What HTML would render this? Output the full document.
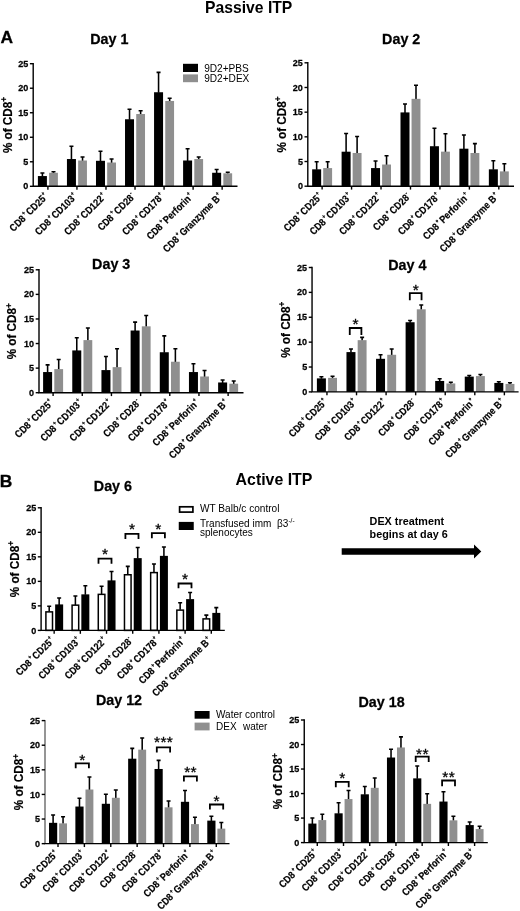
<!DOCTYPE html>
<html lang="en">
<head>
<meta charset="utf-8">
<title>Passive ITP / Active ITP</title>
<style>html,body{margin:0;padding:0;background:#fff}body{width:520px;height:911px;overflow:hidden}svg{display:block}</style>
</head>
<body>
<svg width="520" height="911" viewBox="0 0 520 911" font-family='"Liberation Sans", sans-serif' fill="#000">
<rect width="520" height="911" fill="#fff"/>
<g>
<path d="M42.4 176.55V172.76M40.4 172.96H44.4" stroke="#000" stroke-width="1.55" fill="none"/>
<rect x="37.9" y="176.05" width="9" height="10.25" fill="#000"/>
<path d="M53.5 173.26V171.59M51.5 171.79H55.5" stroke="#000" stroke-width="1.55" fill="none"/>
<rect x="49.1" y="172.76" width="8.8" height="13.54" fill="#8f8f8f"/>
<path d="M71.44 159.53V146.09M69.44 146.29H73.44" stroke="#000" stroke-width="1.55" fill="none"/>
<rect x="66.94" y="159.03" width="9" height="27.27" fill="#000"/>
<path d="M82.54 161V156.88M80.54 157.08H84.54" stroke="#000" stroke-width="1.55" fill="none"/>
<rect x="78.14" y="160.5" width="8.8" height="25.8" fill="#8f8f8f"/>
<path d="M100.48 161.3V150.99M98.48 151.19H102.48" stroke="#000" stroke-width="1.55" fill="none"/>
<rect x="95.98" y="160.8" width="9" height="25.5" fill="#000"/>
<path d="M111.58 163.02V158.84M109.58 159.04H113.58" stroke="#000" stroke-width="1.55" fill="none"/>
<rect x="107.18" y="162.52" width="8.8" height="23.78" fill="#8f8f8f"/>
<path d="M129.52 119.76V108.96M127.52 109.16H131.52" stroke="#000" stroke-width="1.55" fill="none"/>
<rect x="125.02" y="119.26" width="9" height="67.04" fill="#000"/>
<path d="M140.62 114.52V110.48M138.62 110.68H142.62" stroke="#000" stroke-width="1.55" fill="none"/>
<rect x="136.22" y="114.02" width="8.8" height="72.28" fill="#8f8f8f"/>
<path d="M158.56 92.74V72.18M156.56 72.38H160.56" stroke="#000" stroke-width="1.55" fill="none"/>
<rect x="154.06" y="92.24" width="9" height="94.06" fill="#000"/>
<path d="M169.66 101.47V98.03M167.66 98.23H171.66" stroke="#000" stroke-width="1.55" fill="none"/>
<rect x="165.26" y="100.97" width="8.8" height="85.33" fill="#8f8f8f"/>
<path d="M187.6 161V148.54M185.6 148.74H189.6" stroke="#000" stroke-width="1.55" fill="none"/>
<rect x="183.1" y="160.5" width="9" height="25.8" fill="#000"/>
<path d="M198.7 159.53V156.88M196.7 157.08H200.7" stroke="#000" stroke-width="1.55" fill="none"/>
<rect x="194.3" y="159.03" width="8.8" height="27.27" fill="#8f8f8f"/>
<path d="M216.64 173.26V169.28M214.64 169.48H218.64" stroke="#000" stroke-width="1.55" fill="none"/>
<rect x="212.14" y="172.76" width="9" height="13.54" fill="#000"/>
<path d="M227.74 173.8V172.08M225.74 172.28H229.74" stroke="#000" stroke-width="1.55" fill="none"/>
<rect x="223.34" y="173.3" width="8.8" height="13" fill="#8f8f8f"/>
<path d="M33.2 63V186.3H237.5" stroke="#000" stroke-width="1.4" fill="none"/>
<path d="M29.9 186.3H33.2" stroke="#000" stroke-width="1.4"/>
<text transform="translate(28.3 189.4) scale(0.96 1)" text-anchor="end" font-size="9.4" font-weight="bold" stroke="#000" stroke-width="0.25">0</text>
<path d="M29.9 161.78H33.2" stroke="#000" stroke-width="1.4"/>
<text transform="translate(28.3 164.88) scale(0.96 1)" text-anchor="end" font-size="9.4" font-weight="bold" stroke="#000" stroke-width="0.25">5</text>
<path d="M29.9 137.26H33.2" stroke="#000" stroke-width="1.4"/>
<text transform="translate(28.3 140.36) scale(0.96 1)" text-anchor="end" font-size="9.4" font-weight="bold" stroke="#000" stroke-width="0.25">10</text>
<path d="M29.9 112.74H33.2" stroke="#000" stroke-width="1.4"/>
<text transform="translate(28.3 115.84) scale(0.96 1)" text-anchor="end" font-size="9.4" font-weight="bold" stroke="#000" stroke-width="0.25">15</text>
<path d="M29.9 88.22H33.2" stroke="#000" stroke-width="1.4"/>
<text transform="translate(28.3 91.32) scale(0.96 1)" text-anchor="end" font-size="9.4" font-weight="bold" stroke="#000" stroke-width="0.25">20</text>
<path d="M29.9 63.7H33.2" stroke="#000" stroke-width="1.4"/>
<text transform="translate(28.3 66.8) scale(0.96 1)" text-anchor="end" font-size="9.4" font-weight="bold" stroke="#000" stroke-width="0.25">25</text>
<path d="M47.9 186.3V189.7" stroke="#000" stroke-width="1.4"/>
<text transform="translate(48.7 197.1) rotate(-45) scale(0.88 1)" text-anchor="end" font-size="10.2" font-weight="bold" stroke="#000" stroke-width="0.2">CD8<tspan dy="-4.6" dx="1.2" font-size="5.8">+</tspan><tspan dy="4.6" dx="1.4">CD25</tspan><tspan dy="-4.6" dx="0.6" font-size="5.8">+</tspan></text>
<path d="M76.94 186.3V189.7" stroke="#000" stroke-width="1.4"/>
<text transform="translate(77.74 197.1) rotate(-45) scale(0.88 1)" text-anchor="end" font-size="10.2" font-weight="bold" stroke="#000" stroke-width="0.2">CD8<tspan dy="-4.6" dx="1.2" font-size="5.8">+</tspan><tspan dy="4.6" dx="1.4">CD103</tspan><tspan dy="-4.6" dx="0.6" font-size="5.8">+</tspan></text>
<path d="M105.98 186.3V189.7" stroke="#000" stroke-width="1.4"/>
<text transform="translate(106.78 197.1) rotate(-45) scale(0.88 1)" text-anchor="end" font-size="10.2" font-weight="bold" stroke="#000" stroke-width="0.2">CD8<tspan dy="-4.6" dx="1.2" font-size="5.8">+</tspan><tspan dy="4.6" dx="1.4">CD122</tspan><tspan dy="-4.6" dx="0.6" font-size="5.8">+</tspan></text>
<path d="M135.02 186.3V189.7" stroke="#000" stroke-width="1.4"/>
<text transform="translate(135.82 197.1) rotate(-45) scale(0.88 1)" text-anchor="end" font-size="10.2" font-weight="bold" stroke="#000" stroke-width="0.2">CD8<tspan dy="-4.6" dx="1.2" font-size="5.8">+</tspan><tspan dy="4.6" dx="1.4">CD28</tspan><tspan dy="-4.6" dx="0.6" font-size="5.8">-</tspan></text>
<path d="M164.06 186.3V189.7" stroke="#000" stroke-width="1.4"/>
<text transform="translate(164.86 197.1) rotate(-45) scale(0.88 1)" text-anchor="end" font-size="10.2" font-weight="bold" stroke="#000" stroke-width="0.2">CD8<tspan dy="-4.6" dx="1.2" font-size="5.8">+</tspan><tspan dy="4.6" dx="1.4">CD178</tspan><tspan dy="-4.6" dx="0.6" font-size="5.8">+</tspan></text>
<path d="M193.1 186.3V189.7" stroke="#000" stroke-width="1.4"/>
<text transform="translate(193.9 197.1) rotate(-45) scale(0.88 1)" text-anchor="end" font-size="10.2" font-weight="bold" stroke="#000" stroke-width="0.2">CD8<tspan dy="-4.6" dx="1.2" font-size="5.8">+</tspan><tspan dy="4.6" dx="1.4">Perforin</tspan><tspan dy="-4.6" dx="0.6" font-size="5.8">+</tspan></text>
<path d="M222.14 186.3V189.7" stroke="#000" stroke-width="1.4"/>
<text transform="translate(222.94 197.1) rotate(-45) scale(0.88 1)" text-anchor="end" font-size="10.2" font-weight="bold" stroke="#000" stroke-width="0.2">CD8<tspan dy="-4.6" dx="1.2" font-size="5.8">+</tspan><tspan dy="4.6" dx="1.4">Granzyme B</tspan><tspan dy="-4.6" dx="0.6" font-size="5.8">+</tspan></text>
<text transform="translate(11.8 125) rotate(-90) scale(0.915 1)" text-anchor="middle" font-size="12.8" font-weight="bold" stroke="#000" stroke-width="0.2">% of CD8<tspan dy="-4.6" font-size="9">+</tspan></text>
<text transform="translate(90.2 44) scale(1.03 1)" font-size="13.9" font-weight="bold" stroke="#000" stroke-width="0.25">Day 1</text>
</g>
<g>
<path d="M316.65 169.82V161.52M314.65 161.72H318.65" stroke="#000" stroke-width="1.55" fill="none"/>
<rect x="312.15" y="169.32" width="9" height="16.88" fill="#000"/>
<path d="M327.65 168.58V161.52M325.65 161.72H329.65" stroke="#000" stroke-width="1.55" fill="none"/>
<rect x="323.2" y="168.08" width="8.9" height="18.12" fill="#8f8f8f"/>
<path d="M346.1 152.2V133.38M344.1 133.58H348.1" stroke="#000" stroke-width="1.55" fill="none"/>
<rect x="341.6" y="151.7" width="9" height="34.5" fill="#000"/>
<path d="M357.1 153.48V136.35M355.1 136.55H359.1" stroke="#000" stroke-width="1.55" fill="none"/>
<rect x="352.65" y="152.98" width="8.9" height="33.22" fill="#8f8f8f"/>
<path d="M375.55 168.58V160.78M373.55 160.98H377.55" stroke="#000" stroke-width="1.55" fill="none"/>
<rect x="371.05" y="168.08" width="9" height="18.12" fill="#000"/>
<path d="M386.55 165.03V155.6M384.55 155.8H388.55" stroke="#000" stroke-width="1.55" fill="none"/>
<rect x="382.1" y="164.53" width="8.9" height="21.67" fill="#8f8f8f"/>
<path d="M405 112.91V103.77M403 103.97H407" stroke="#000" stroke-width="1.55" fill="none"/>
<rect x="400.5" y="112.41" width="9" height="73.79" fill="#000"/>
<path d="M416 99.33V85.01M414 85.21H418" stroke="#000" stroke-width="1.55" fill="none"/>
<rect x="411.55" y="98.83" width="8.9" height="87.37" fill="#8f8f8f"/>
<path d="M434.45 146.72V127.96M432.45 128.16H436.45" stroke="#000" stroke-width="1.55" fill="none"/>
<rect x="429.95" y="146.22" width="9" height="39.98" fill="#000"/>
<path d="M445.45 152.15V133.58M443.45 133.78H447.45" stroke="#000" stroke-width="1.55" fill="none"/>
<rect x="441" y="151.65" width="8.9" height="34.55" fill="#8f8f8f"/>
<path d="M463.9 149.19V134.87M461.9 135.07H465.9" stroke="#000" stroke-width="1.55" fill="none"/>
<rect x="459.4" y="148.69" width="9" height="37.51" fill="#000"/>
<path d="M474.9 153.48V143.4M472.9 143.6H476.9" stroke="#000" stroke-width="1.55" fill="none"/>
<rect x="470.45" y="152.98" width="8.9" height="33.22" fill="#8f8f8f"/>
<path d="M493.35 169.82V160.53M491.35 160.73H495.35" stroke="#000" stroke-width="1.55" fill="none"/>
<rect x="488.85" y="169.32" width="9" height="16.88" fill="#000"/>
<path d="M504.35 171.89V163.49M502.35 163.69H506.35" stroke="#000" stroke-width="1.55" fill="none"/>
<rect x="499.9" y="171.39" width="8.9" height="14.81" fill="#8f8f8f"/>
<path d="M307.8 62.1V186.2H514" stroke="#000" stroke-width="1.4" fill="none"/>
<path d="M304.5 186.2H307.8" stroke="#000" stroke-width="1.4"/>
<text transform="translate(302.9 189.3) scale(0.96 1)" text-anchor="end" font-size="9.4" font-weight="bold" stroke="#000" stroke-width="0.25">0</text>
<path d="M304.5 161.52H307.8" stroke="#000" stroke-width="1.4"/>
<text transform="translate(302.9 164.62) scale(0.96 1)" text-anchor="end" font-size="9.4" font-weight="bold" stroke="#000" stroke-width="0.25">5</text>
<path d="M304.5 136.84H307.8" stroke="#000" stroke-width="1.4"/>
<text transform="translate(302.9 139.94) scale(0.96 1)" text-anchor="end" font-size="9.4" font-weight="bold" stroke="#000" stroke-width="0.25">10</text>
<path d="M304.5 112.16H307.8" stroke="#000" stroke-width="1.4"/>
<text transform="translate(302.9 115.26) scale(0.96 1)" text-anchor="end" font-size="9.4" font-weight="bold" stroke="#000" stroke-width="0.25">15</text>
<path d="M304.5 87.48H307.8" stroke="#000" stroke-width="1.4"/>
<text transform="translate(302.9 90.58) scale(0.96 1)" text-anchor="end" font-size="9.4" font-weight="bold" stroke="#000" stroke-width="0.25">20</text>
<path d="M304.5 62.8H307.8" stroke="#000" stroke-width="1.4"/>
<text transform="translate(302.9 65.9) scale(0.96 1)" text-anchor="end" font-size="9.4" font-weight="bold" stroke="#000" stroke-width="0.25">25</text>
<path d="M322.12 186.2V189.6" stroke="#000" stroke-width="1.4"/>
<text transform="translate(322.93 197) rotate(-45) scale(0.88 1)" text-anchor="end" font-size="10.2" font-weight="bold" stroke="#000" stroke-width="0.2">CD8<tspan dy="-4.6" dx="1.2" font-size="5.8">+</tspan><tspan dy="4.6" dx="1.4">CD25</tspan><tspan dy="-4.6" dx="0.6" font-size="5.8">+</tspan></text>
<path d="M351.57 186.2V189.6" stroke="#000" stroke-width="1.4"/>
<text transform="translate(352.38 197) rotate(-45) scale(0.88 1)" text-anchor="end" font-size="10.2" font-weight="bold" stroke="#000" stroke-width="0.2">CD8<tspan dy="-4.6" dx="1.2" font-size="5.8">+</tspan><tspan dy="4.6" dx="1.4">CD103</tspan><tspan dy="-4.6" dx="0.6" font-size="5.8">+</tspan></text>
<path d="M381.02 186.2V189.6" stroke="#000" stroke-width="1.4"/>
<text transform="translate(381.82 197) rotate(-45) scale(0.88 1)" text-anchor="end" font-size="10.2" font-weight="bold" stroke="#000" stroke-width="0.2">CD8<tspan dy="-4.6" dx="1.2" font-size="5.8">+</tspan><tspan dy="4.6" dx="1.4">CD122</tspan><tspan dy="-4.6" dx="0.6" font-size="5.8">+</tspan></text>
<path d="M410.48 186.2V189.6" stroke="#000" stroke-width="1.4"/>
<text transform="translate(411.28 197) rotate(-45) scale(0.88 1)" text-anchor="end" font-size="10.2" font-weight="bold" stroke="#000" stroke-width="0.2">CD8<tspan dy="-4.6" dx="1.2" font-size="5.8">+</tspan><tspan dy="4.6" dx="1.4">CD28</tspan><tspan dy="-4.6" dx="0.6" font-size="5.8">-</tspan></text>
<path d="M439.93 186.2V189.6" stroke="#000" stroke-width="1.4"/>
<text transform="translate(440.73 197) rotate(-45) scale(0.88 1)" text-anchor="end" font-size="10.2" font-weight="bold" stroke="#000" stroke-width="0.2">CD8<tspan dy="-4.6" dx="1.2" font-size="5.8">+</tspan><tspan dy="4.6" dx="1.4">CD178</tspan><tspan dy="-4.6" dx="0.6" font-size="5.8">+</tspan></text>
<path d="M469.38 186.2V189.6" stroke="#000" stroke-width="1.4"/>
<text transform="translate(470.18 197) rotate(-45) scale(0.88 1)" text-anchor="end" font-size="10.2" font-weight="bold" stroke="#000" stroke-width="0.2">CD8<tspan dy="-4.6" dx="1.2" font-size="5.8">+</tspan><tspan dy="4.6" dx="1.4">Perforin</tspan><tspan dy="-4.6" dx="0.6" font-size="5.8">+</tspan></text>
<path d="M498.82 186.2V189.6" stroke="#000" stroke-width="1.4"/>
<text transform="translate(499.62 197) rotate(-45) scale(0.88 1)" text-anchor="end" font-size="10.2" font-weight="bold" stroke="#000" stroke-width="0.2">CD8<tspan dy="-4.6" dx="1.2" font-size="5.8">+</tspan><tspan dy="4.6" dx="1.4">Granzyme B</tspan><tspan dy="-4.6" dx="0.6" font-size="5.8">+</tspan></text>
<text transform="translate(285.7 124.5) rotate(-90) scale(0.915 1)" text-anchor="middle" font-size="12.8" font-weight="bold" stroke="#000" stroke-width="0.2">% of CD8<tspan dy="-4.6" font-size="9">+</tspan></text>
<text transform="translate(382.1 44.4) scale(1.03 1)" font-size="13.9" font-weight="bold" stroke="#000" stroke-width="0.25">Day 2</text>
</g>
<g>
<path d="M47.6 372.55V364.68M45.6 364.88H49.6" stroke="#000" stroke-width="1.55" fill="none"/>
<rect x="43.1" y="372.05" width="9" height="20.65" fill="#000"/>
<path d="M58.7 369.6V359.27M56.7 359.47H60.7" stroke="#000" stroke-width="1.55" fill="none"/>
<rect x="54.3" y="369.1" width="8.8" height="23.6" fill="#8f8f8f"/>
<path d="M76.77 350.92V337.64M74.77 337.84H78.77" stroke="#000" stroke-width="1.55" fill="none"/>
<rect x="72.27" y="350.42" width="9" height="42.28" fill="#000"/>
<path d="M87.87 340.6V327.81M85.87 328.01H89.87" stroke="#000" stroke-width="1.55" fill="none"/>
<rect x="83.47" y="340.1" width="8.8" height="52.6" fill="#8f8f8f"/>
<path d="M105.94 370.59V356.32M103.94 356.52H107.94" stroke="#000" stroke-width="1.55" fill="none"/>
<rect x="101.44" y="370.09" width="9" height="22.61" fill="#000"/>
<path d="M117.04 367.64V348.46M115.04 348.66H119.04" stroke="#000" stroke-width="1.55" fill="none"/>
<rect x="112.64" y="367.14" width="8.8" height="25.56" fill="#8f8f8f"/>
<path d="M135.11 331.01V321.91M133.11 322.11H137.11" stroke="#000" stroke-width="1.55" fill="none"/>
<rect x="130.61" y="330.51" width="9" height="62.19" fill="#000"/>
<path d="M146.21 326.83V315.27M144.21 315.47H148.21" stroke="#000" stroke-width="1.55" fill="none"/>
<rect x="141.81" y="326.33" width="8.8" height="66.37" fill="#8f8f8f"/>
<path d="M164.28 352.74V335.67M162.28 335.87H166.28" stroke="#000" stroke-width="1.55" fill="none"/>
<rect x="159.78" y="352.24" width="9" height="40.46" fill="#000"/>
<path d="M175.38 362.23V348.46M173.38 348.66H177.38" stroke="#000" stroke-width="1.55" fill="none"/>
<rect x="170.98" y="361.73" width="8.8" height="30.97" fill="#8f8f8f"/>
<path d="M193.45 372.55V363.45M191.45 363.65H195.45" stroke="#000" stroke-width="1.55" fill="none"/>
<rect x="188.95" y="372.05" width="9" height="20.65" fill="#000"/>
<path d="M204.55 376.98V370.23M202.55 370.43H206.55" stroke="#000" stroke-width="1.55" fill="none"/>
<rect x="200.15" y="376.48" width="8.8" height="16.22" fill="#8f8f8f"/>
<path d="M222.62 382.97V379.72M220.62 379.92H224.62" stroke="#000" stroke-width="1.55" fill="none"/>
<rect x="218.12" y="382.47" width="9" height="10.23" fill="#000"/>
<path d="M233.72 384.2V380.7M231.72 380.9H235.72" stroke="#000" stroke-width="1.55" fill="none"/>
<rect x="229.32" y="383.7" width="8.8" height="9" fill="#8f8f8f"/>
<path d="M39 269.1V392.7H243.5" stroke="#000" stroke-width="1.4" fill="none"/>
<path d="M35.7 392.7H39" stroke="#000" stroke-width="1.4"/>
<text transform="translate(34.1 395.8) scale(0.96 1)" text-anchor="end" font-size="9.4" font-weight="bold" stroke="#000" stroke-width="0.25">0</text>
<path d="M35.7 368.12H39" stroke="#000" stroke-width="1.4"/>
<text transform="translate(34.1 371.22) scale(0.96 1)" text-anchor="end" font-size="9.4" font-weight="bold" stroke="#000" stroke-width="0.25">5</text>
<path d="M35.7 343.54H39" stroke="#000" stroke-width="1.4"/>
<text transform="translate(34.1 346.64) scale(0.96 1)" text-anchor="end" font-size="9.4" font-weight="bold" stroke="#000" stroke-width="0.25">10</text>
<path d="M35.7 318.96H39" stroke="#000" stroke-width="1.4"/>
<text transform="translate(34.1 322.06) scale(0.96 1)" text-anchor="end" font-size="9.4" font-weight="bold" stroke="#000" stroke-width="0.25">15</text>
<path d="M35.7 294.38H39" stroke="#000" stroke-width="1.4"/>
<text transform="translate(34.1 297.48) scale(0.96 1)" text-anchor="end" font-size="9.4" font-weight="bold" stroke="#000" stroke-width="0.25">20</text>
<path d="M35.7 269.8H39" stroke="#000" stroke-width="1.4"/>
<text transform="translate(34.1 272.9) scale(0.96 1)" text-anchor="end" font-size="9.4" font-weight="bold" stroke="#000" stroke-width="0.25">25</text>
<path d="M53.1 392.7V396.1" stroke="#000" stroke-width="1.4"/>
<text transform="translate(53.9 403.5) rotate(-45) scale(0.88 1)" text-anchor="end" font-size="10.2" font-weight="bold" stroke="#000" stroke-width="0.2">CD8<tspan dy="-4.6" dx="1.2" font-size="5.8">+</tspan><tspan dy="4.6" dx="1.4">CD25</tspan><tspan dy="-4.6" dx="0.6" font-size="5.8">+</tspan></text>
<path d="M82.27 392.7V396.1" stroke="#000" stroke-width="1.4"/>
<text transform="translate(83.07 403.5) rotate(-45) scale(0.88 1)" text-anchor="end" font-size="10.2" font-weight="bold" stroke="#000" stroke-width="0.2">CD8<tspan dy="-4.6" dx="1.2" font-size="5.8">+</tspan><tspan dy="4.6" dx="1.4">CD103</tspan><tspan dy="-4.6" dx="0.6" font-size="5.8">+</tspan></text>
<path d="M111.44 392.7V396.1" stroke="#000" stroke-width="1.4"/>
<text transform="translate(112.24 403.5) rotate(-45) scale(0.88 1)" text-anchor="end" font-size="10.2" font-weight="bold" stroke="#000" stroke-width="0.2">CD8<tspan dy="-4.6" dx="1.2" font-size="5.8">+</tspan><tspan dy="4.6" dx="1.4">CD122</tspan><tspan dy="-4.6" dx="0.6" font-size="5.8">+</tspan></text>
<path d="M140.61 392.7V396.1" stroke="#000" stroke-width="1.4"/>
<text transform="translate(141.41 403.5) rotate(-45) scale(0.88 1)" text-anchor="end" font-size="10.2" font-weight="bold" stroke="#000" stroke-width="0.2">CD8<tspan dy="-4.6" dx="1.2" font-size="5.8">+</tspan><tspan dy="4.6" dx="1.4">CD28</tspan><tspan dy="-4.6" dx="0.6" font-size="5.8">-</tspan></text>
<path d="M169.78 392.7V396.1" stroke="#000" stroke-width="1.4"/>
<text transform="translate(170.58 403.5) rotate(-45) scale(0.88 1)" text-anchor="end" font-size="10.2" font-weight="bold" stroke="#000" stroke-width="0.2">CD8<tspan dy="-4.6" dx="1.2" font-size="5.8">+</tspan><tspan dy="4.6" dx="1.4">CD178</tspan><tspan dy="-4.6" dx="0.6" font-size="5.8">+</tspan></text>
<path d="M198.95 392.7V396.1" stroke="#000" stroke-width="1.4"/>
<text transform="translate(199.75 403.5) rotate(-45) scale(0.88 1)" text-anchor="end" font-size="10.2" font-weight="bold" stroke="#000" stroke-width="0.2">CD8<tspan dy="-4.6" dx="1.2" font-size="5.8">+</tspan><tspan dy="4.6" dx="1.4">Perforin</tspan><tspan dy="-4.6" dx="0.6" font-size="5.8">+</tspan></text>
<path d="M228.12 392.7V396.1" stroke="#000" stroke-width="1.4"/>
<text transform="translate(228.92 403.5) rotate(-45) scale(0.88 1)" text-anchor="end" font-size="10.2" font-weight="bold" stroke="#000" stroke-width="0.2">CD8<tspan dy="-4.6" dx="1.2" font-size="5.8">+</tspan><tspan dy="4.6" dx="1.4">Granzyme B</tspan><tspan dy="-4.6" dx="0.6" font-size="5.8">+</tspan></text>
<text transform="translate(16.4 331.25) rotate(-90) scale(0.915 1)" text-anchor="middle" font-size="12.8" font-weight="bold" stroke="#000" stroke-width="0.2">% of CD8<tspan dy="-4.6" font-size="9">+</tspan></text>
<text transform="translate(92.1 269.4) scale(1.03 1)" font-size="13.9" font-weight="bold" stroke="#000" stroke-width="0.25">Day 3</text>
</g>
<g>
<path d="M321.4 378.87V376.47M319.4 376.67H323.4" stroke="#000" stroke-width="1.55" fill="none"/>
<rect x="316.9" y="378.37" width="9" height="13.53" fill="#000"/>
<path d="M332.55 378.37V375.98M330.55 376.18H334.55" stroke="#000" stroke-width="1.55" fill="none"/>
<rect x="328.1" y="377.87" width="8.9" height="14.03" fill="#8f8f8f"/>
<path d="M350.97 352.59V348.76M348.97 348.96H352.97" stroke="#000" stroke-width="1.55" fill="none"/>
<rect x="346.47" y="352.09" width="9" height="39.81" fill="#000"/>
<path d="M362.12 340.65V337.16M360.12 337.36H364.12" stroke="#000" stroke-width="1.55" fill="none"/>
<rect x="357.67" y="340.15" width="8.9" height="51.75" fill="#8f8f8f"/>
<path d="M380.54 359.31V354.58M378.54 354.78H382.54" stroke="#000" stroke-width="1.55" fill="none"/>
<rect x="376.04" y="358.81" width="9" height="33.09" fill="#000"/>
<path d="M391.69 355.28V348.76M389.69 348.96H393.69" stroke="#000" stroke-width="1.55" fill="none"/>
<rect x="387.24" y="354.78" width="8.9" height="37.12" fill="#8f8f8f"/>
<path d="M410.11 322.74V320.25M408.11 320.45H412.11" stroke="#000" stroke-width="1.55" fill="none"/>
<rect x="405.61" y="322.24" width="9" height="69.66" fill="#000"/>
<path d="M421.26 309.8V304.82M419.26 305.02H423.26" stroke="#000" stroke-width="1.55" fill="none"/>
<rect x="416.81" y="309.3" width="8.9" height="82.6" fill="#8f8f8f"/>
<path d="M439.68 381.45V378.61M437.68 378.81H441.68" stroke="#000" stroke-width="1.55" fill="none"/>
<rect x="435.18" y="380.95" width="9" height="10.95" fill="#000"/>
<path d="M450.83 383.94V382.1M448.83 382.3H452.83" stroke="#000" stroke-width="1.55" fill="none"/>
<rect x="446.38" y="383.44" width="8.9" height="8.46" fill="#8f8f8f"/>
<path d="M469.25 377.12V375.33M467.25 375.53H471.25" stroke="#000" stroke-width="1.55" fill="none"/>
<rect x="464.75" y="376.62" width="9" height="15.28" fill="#000"/>
<path d="M480.4 376.58V374.33M478.4 374.53H482.4" stroke="#000" stroke-width="1.55" fill="none"/>
<rect x="475.95" y="376.08" width="8.9" height="15.82" fill="#8f8f8f"/>
<path d="M498.82 383.44V381.6M496.82 381.8H500.82" stroke="#000" stroke-width="1.55" fill="none"/>
<rect x="494.32" y="382.94" width="9" height="8.96" fill="#000"/>
<path d="M509.97 384.44V382.64M507.97 382.84H511.97" stroke="#000" stroke-width="1.55" fill="none"/>
<rect x="505.52" y="383.94" width="8.9" height="7.96" fill="#8f8f8f"/>
<path d="M312.05 266.8V391.9H518.6" stroke="#000" stroke-width="1.4" fill="none"/>
<path d="M308.75 391.9H312.05" stroke="#000" stroke-width="1.4"/>
<text transform="translate(307.15 395) scale(0.96 1)" text-anchor="end" font-size="9.4" font-weight="bold" stroke="#000" stroke-width="0.25">0</text>
<path d="M308.75 367.02H312.05" stroke="#000" stroke-width="1.4"/>
<text transform="translate(307.15 370.12) scale(0.96 1)" text-anchor="end" font-size="9.4" font-weight="bold" stroke="#000" stroke-width="0.25">5</text>
<path d="M308.75 342.14H312.05" stroke="#000" stroke-width="1.4"/>
<text transform="translate(307.15 345.24) scale(0.96 1)" text-anchor="end" font-size="9.4" font-weight="bold" stroke="#000" stroke-width="0.25">10</text>
<path d="M308.75 317.26H312.05" stroke="#000" stroke-width="1.4"/>
<text transform="translate(307.15 320.36) scale(0.96 1)" text-anchor="end" font-size="9.4" font-weight="bold" stroke="#000" stroke-width="0.25">15</text>
<path d="M308.75 292.38H312.05" stroke="#000" stroke-width="1.4"/>
<text transform="translate(307.15 295.48) scale(0.96 1)" text-anchor="end" font-size="9.4" font-weight="bold" stroke="#000" stroke-width="0.25">20</text>
<path d="M308.75 267.5H312.05" stroke="#000" stroke-width="1.4"/>
<text transform="translate(307.15 270.6) scale(0.96 1)" text-anchor="end" font-size="9.4" font-weight="bold" stroke="#000" stroke-width="0.25">25</text>
<path d="M326.95 391.9V395.3" stroke="#000" stroke-width="1.4"/>
<text transform="translate(327.75 402.7) rotate(-45) scale(0.88 1)" text-anchor="end" font-size="10.2" font-weight="bold" stroke="#000" stroke-width="0.2">CD8<tspan dy="-4.6" dx="1.2" font-size="5.8">+</tspan><tspan dy="4.6" dx="1.4">CD25</tspan><tspan dy="-4.6" dx="0.6" font-size="5.8">+</tspan></text>
<path d="M356.52 391.9V395.3" stroke="#000" stroke-width="1.4"/>
<text transform="translate(357.32 402.7) rotate(-45) scale(0.88 1)" text-anchor="end" font-size="10.2" font-weight="bold" stroke="#000" stroke-width="0.2">CD8<tspan dy="-4.6" dx="1.2" font-size="5.8">+</tspan><tspan dy="4.6" dx="1.4">CD103</tspan><tspan dy="-4.6" dx="0.6" font-size="5.8">+</tspan></text>
<path d="M386.09 391.9V395.3" stroke="#000" stroke-width="1.4"/>
<text transform="translate(386.89 402.7) rotate(-45) scale(0.88 1)" text-anchor="end" font-size="10.2" font-weight="bold" stroke="#000" stroke-width="0.2">CD8<tspan dy="-4.6" dx="1.2" font-size="5.8">+</tspan><tspan dy="4.6" dx="1.4">CD122</tspan><tspan dy="-4.6" dx="0.6" font-size="5.8">+</tspan></text>
<path d="M415.66 391.9V395.3" stroke="#000" stroke-width="1.4"/>
<text transform="translate(416.46 402.7) rotate(-45) scale(0.88 1)" text-anchor="end" font-size="10.2" font-weight="bold" stroke="#000" stroke-width="0.2">CD8<tspan dy="-4.6" dx="1.2" font-size="5.8">+</tspan><tspan dy="4.6" dx="1.4">CD28</tspan><tspan dy="-4.6" dx="0.6" font-size="5.8">-</tspan></text>
<path d="M445.23 391.9V395.3" stroke="#000" stroke-width="1.4"/>
<text transform="translate(446.03 402.7) rotate(-45) scale(0.88 1)" text-anchor="end" font-size="10.2" font-weight="bold" stroke="#000" stroke-width="0.2">CD8<tspan dy="-4.6" dx="1.2" font-size="5.8">+</tspan><tspan dy="4.6" dx="1.4">CD178</tspan><tspan dy="-4.6" dx="0.6" font-size="5.8">+</tspan></text>
<path d="M474.8 391.9V395.3" stroke="#000" stroke-width="1.4"/>
<text transform="translate(475.6 402.7) rotate(-45) scale(0.88 1)" text-anchor="end" font-size="10.2" font-weight="bold" stroke="#000" stroke-width="0.2">CD8<tspan dy="-4.6" dx="1.2" font-size="5.8">+</tspan><tspan dy="4.6" dx="1.4">Perforin</tspan><tspan dy="-4.6" dx="0.6" font-size="5.8">+</tspan></text>
<path d="M504.37 391.9V395.3" stroke="#000" stroke-width="1.4"/>
<text transform="translate(505.17 402.7) rotate(-45) scale(0.88 1)" text-anchor="end" font-size="10.2" font-weight="bold" stroke="#000" stroke-width="0.2">CD8<tspan dy="-4.6" dx="1.2" font-size="5.8">+</tspan><tspan dy="4.6" dx="1.4">Granzyme B</tspan><tspan dy="-4.6" dx="0.6" font-size="5.8">+</tspan></text>
<text transform="translate(289.7 329.7) rotate(-90) scale(0.915 1)" text-anchor="middle" font-size="12.8" font-weight="bold" stroke="#000" stroke-width="0.2">% of CD8<tspan dy="-4.6" font-size="9">+</tspan></text>
<text transform="translate(388.2 270) scale(1.03 1)" font-size="13.9" font-weight="bold" stroke="#000" stroke-width="0.25">Day 4</text>
<path d="M349.76 334.9V328H361.4V334.9" stroke="#000" stroke-width="1.8" fill="none"/>
<text x="355.58" y="329.4" text-anchor="middle" font-size="15.5" stroke="#000" stroke-width="0.3">*</text>
<path d="M409.8 300.2V293.2H421.55V300.2" stroke="#000" stroke-width="1.8" fill="none"/>
<text x="415.68" y="294.7" text-anchor="middle" font-size="15.5" stroke="#000" stroke-width="0.3">*</text>
</g>
<g>
<path d="M49.2 611.63V606.13M47.2 606.33H51.2" stroke="#000" stroke-width="1.55" fill="none"/>
<rect x="45.9" y="611.88" width="6.6" height="18.52" fill="#fff" stroke="#000" stroke-width="1.5"/>
<path d="M59.15 604.91V597.89M57.15 598.09H61.15" stroke="#000" stroke-width="1.55" fill="none"/>
<rect x="55.15" y="604.41" width="8" height="25.99" fill="#000"/>
<path d="M75.39 604.91V595.88M73.39 596.08H77.39" stroke="#000" stroke-width="1.55" fill="none"/>
<rect x="72.09" y="605.16" width="6.6" height="25.24" fill="#fff" stroke="#000" stroke-width="1.5"/>
<path d="M85.34 594.86V585.63M83.34 585.83H87.34" stroke="#000" stroke-width="1.55" fill="none"/>
<rect x="81.34" y="594.36" width="8" height="36.04" fill="#000"/>
<path d="M101.58 594.12V586.12M99.58 586.32H103.58" stroke="#000" stroke-width="1.55" fill="none"/>
<rect x="98.28" y="594.37" width="6.6" height="36.03" fill="#fff" stroke="#000" stroke-width="1.5"/>
<path d="M111.53 580.88V571.36M109.53 571.56H113.53" stroke="#000" stroke-width="1.55" fill="none"/>
<rect x="107.53" y="580.38" width="8" height="50.02" fill="#000"/>
<path d="M127.77 574.5V566.16M125.77 566.36H129.77" stroke="#000" stroke-width="1.55" fill="none"/>
<rect x="124.47" y="574.75" width="6.6" height="55.65" fill="#fff" stroke="#000" stroke-width="1.5"/>
<path d="M137.72 558.62V547.33M135.72 547.53H139.72" stroke="#000" stroke-width="1.55" fill="none"/>
<rect x="133.72" y="558.12" width="8" height="72.28" fill="#000"/>
<path d="M153.96 572.35V563.71M151.96 563.91H155.96" stroke="#000" stroke-width="1.55" fill="none"/>
<rect x="150.66" y="572.6" width="6.6" height="57.8" fill="#fff" stroke="#000" stroke-width="1.5"/>
<path d="M163.91 556.36V546.84M161.91 547.04H165.91" stroke="#000" stroke-width="1.55" fill="none"/>
<rect x="159.91" y="555.86" width="8" height="74.54" fill="#000"/>
<path d="M180.15 609.86V602.64M178.15 602.84H182.15" stroke="#000" stroke-width="1.55" fill="none"/>
<rect x="176.85" y="610.11" width="6.6" height="20.29" fill="#fff" stroke="#000" stroke-width="1.5"/>
<path d="M190.1 599.61V592.34M188.1 592.54H192.1" stroke="#000" stroke-width="1.55" fill="none"/>
<rect x="186.1" y="599.11" width="8" height="31.29" fill="#000"/>
<path d="M206.34 618.64V614.9M204.34 615.1H208.34" stroke="#000" stroke-width="1.55" fill="none"/>
<rect x="203.04" y="618.89" width="6.6" height="11.51" fill="#fff" stroke="#000" stroke-width="1.5"/>
<path d="M216.29 613.39V607.4M214.29 607.6H218.29" stroke="#000" stroke-width="1.55" fill="none"/>
<rect x="212.29" y="612.89" width="8" height="17.51" fill="#000"/>
<path d="M41.1 507.1V630.4H224.8" stroke="#000" stroke-width="1.4" fill="none"/>
<path d="M37.8 630.4H41.1" stroke="#000" stroke-width="1.4"/>
<text transform="translate(36.2 633.5) scale(0.96 1)" text-anchor="end" font-size="9.4" font-weight="bold" stroke="#000" stroke-width="0.25">0</text>
<path d="M37.8 605.88H41.1" stroke="#000" stroke-width="1.4"/>
<text transform="translate(36.2 608.98) scale(0.96 1)" text-anchor="end" font-size="9.4" font-weight="bold" stroke="#000" stroke-width="0.25">5</text>
<path d="M37.8 581.36H41.1" stroke="#000" stroke-width="1.4"/>
<text transform="translate(36.2 584.46) scale(0.96 1)" text-anchor="end" font-size="9.4" font-weight="bold" stroke="#000" stroke-width="0.25">10</text>
<path d="M37.8 556.84H41.1" stroke="#000" stroke-width="1.4"/>
<text transform="translate(36.2 559.94) scale(0.96 1)" text-anchor="end" font-size="9.4" font-weight="bold" stroke="#000" stroke-width="0.25">15</text>
<path d="M37.8 532.32H41.1" stroke="#000" stroke-width="1.4"/>
<text transform="translate(36.2 535.42) scale(0.96 1)" text-anchor="end" font-size="9.4" font-weight="bold" stroke="#000" stroke-width="0.25">20</text>
<path d="M37.8 507.8H41.1" stroke="#000" stroke-width="1.4"/>
<text transform="translate(36.2 510.9) scale(0.96 1)" text-anchor="end" font-size="9.4" font-weight="bold" stroke="#000" stroke-width="0.25">25</text>
<path d="M54.15 630.4V633.8" stroke="#000" stroke-width="1.4"/>
<text transform="translate(54.95 641.2) rotate(-45) scale(0.88 1)" text-anchor="end" font-size="10.2" font-weight="bold" stroke="#000" stroke-width="0.2">CD8<tspan dy="-4.6" dx="1.2" font-size="5.8">+</tspan><tspan dy="4.6" dx="1.4">CD25</tspan><tspan dy="-4.6" dx="0.6" font-size="5.8">+</tspan></text>
<path d="M80.34 630.4V633.8" stroke="#000" stroke-width="1.4"/>
<text transform="translate(81.14 641.2) rotate(-45) scale(0.88 1)" text-anchor="end" font-size="10.2" font-weight="bold" stroke="#000" stroke-width="0.2">CD8<tspan dy="-4.6" dx="1.2" font-size="5.8">+</tspan><tspan dy="4.6" dx="1.4">CD103</tspan><tspan dy="-4.6" dx="0.6" font-size="5.8">+</tspan></text>
<path d="M106.53 630.4V633.8" stroke="#000" stroke-width="1.4"/>
<text transform="translate(107.33 641.2) rotate(-45) scale(0.88 1)" text-anchor="end" font-size="10.2" font-weight="bold" stroke="#000" stroke-width="0.2">CD8<tspan dy="-4.6" dx="1.2" font-size="5.8">+</tspan><tspan dy="4.6" dx="1.4">CD122</tspan><tspan dy="-4.6" dx="0.6" font-size="5.8">+</tspan></text>
<path d="M132.72 630.4V633.8" stroke="#000" stroke-width="1.4"/>
<text transform="translate(133.52 641.2) rotate(-45) scale(0.88 1)" text-anchor="end" font-size="10.2" font-weight="bold" stroke="#000" stroke-width="0.2">CD8<tspan dy="-4.6" dx="1.2" font-size="5.8">+</tspan><tspan dy="4.6" dx="1.4">CD28</tspan><tspan dy="-4.6" dx="0.6" font-size="5.8">-</tspan></text>
<path d="M158.91 630.4V633.8" stroke="#000" stroke-width="1.4"/>
<text transform="translate(159.71 641.2) rotate(-45) scale(0.88 1)" text-anchor="end" font-size="10.2" font-weight="bold" stroke="#000" stroke-width="0.2">CD8<tspan dy="-4.6" dx="1.2" font-size="5.8">+</tspan><tspan dy="4.6" dx="1.4">CD178</tspan><tspan dy="-4.6" dx="0.6" font-size="5.8">+</tspan></text>
<path d="M185.1 630.4V633.8" stroke="#000" stroke-width="1.4"/>
<text transform="translate(185.9 641.2) rotate(-45) scale(0.88 1)" text-anchor="end" font-size="10.2" font-weight="bold" stroke="#000" stroke-width="0.2">CD8<tspan dy="-4.6" dx="1.2" font-size="5.8">+</tspan><tspan dy="4.6" dx="1.4">Perforin</tspan><tspan dy="-4.6" dx="0.6" font-size="5.8">+</tspan></text>
<path d="M211.29 630.4V633.8" stroke="#000" stroke-width="1.4"/>
<text transform="translate(212.09 641.2) rotate(-45) scale(0.88 1)" text-anchor="end" font-size="10.2" font-weight="bold" stroke="#000" stroke-width="0.2">CD8<tspan dy="-4.6" dx="1.2" font-size="5.8">+</tspan><tspan dy="4.6" dx="1.4">Granzyme B</tspan><tspan dy="-4.6" dx="0.6" font-size="5.8">+</tspan></text>
<text transform="translate(19 569.1) rotate(-90) scale(0.915 1)" text-anchor="middle" font-size="12.8" font-weight="bold" stroke="#000" stroke-width="0.2">% of CD8<tspan dy="-4.6" font-size="9">+</tspan></text>
<text transform="translate(93.8 491.4) scale(1.03 1)" font-size="13.9" font-weight="bold" stroke="#000" stroke-width="0.25">Day 6</text>
<path d="M98.5 563.7V558.7H111.5V563.7" stroke="#000" stroke-width="1.8" fill="none"/>
<text x="105" y="559.3" text-anchor="middle" font-size="15.5" stroke="#000" stroke-width="0.3">*</text>
<path d="M125.4 539.1V533.9H138.5V539.1" stroke="#000" stroke-width="1.8" fill="none"/>
<text x="131.95" y="534.3" text-anchor="middle" font-size="15.5" stroke="#000" stroke-width="0.3">*</text>
<path d="M151.85 538.15V533.15H164.9V538.15" stroke="#000" stroke-width="1.8" fill="none"/>
<text x="158.38" y="533.55" text-anchor="middle" font-size="15.5" stroke="#000" stroke-width="0.3">*</text>
<path d="M178.5 588.3V583.5H191.5V588.3" stroke="#000" stroke-width="1.8" fill="none"/>
<text x="185" y="583.9" text-anchor="middle" font-size="15.5" stroke="#000" stroke-width="0.3">*</text>
</g>
<g>
<path d="M53.1 823.33V814.81M51.1 815.01H55.1" stroke="#000" stroke-width="1.55" fill="none"/>
<rect x="49" y="822.83" width="8.2" height="20.82" fill="#000"/>
<path d="M63.05 823.87V816.58M61.05 816.78H65.05" stroke="#000" stroke-width="1.55" fill="none"/>
<rect x="59.1" y="823.37" width="7.9" height="20.28" fill="#8f8f8f"/>
<path d="M79.48 807.04V798.02M77.48 798.22H81.48" stroke="#000" stroke-width="1.55" fill="none"/>
<rect x="75.38" y="806.54" width="8.2" height="37.11" fill="#000"/>
<path d="M89.43 790.01V776.71M87.43 776.91H91.43" stroke="#000" stroke-width="1.55" fill="none"/>
<rect x="85.48" y="789.51" width="7.9" height="54.14" fill="#8f8f8f"/>
<path d="M105.86 804.28V794.04M103.86 794.24H107.86" stroke="#000" stroke-width="1.55" fill="none"/>
<rect x="101.76" y="803.78" width="8.2" height="39.87" fill="#000"/>
<path d="M115.81 798.28V789.75M113.81 789.95H117.81" stroke="#000" stroke-width="1.55" fill="none"/>
<rect x="111.86" y="797.78" width="7.9" height="45.87" fill="#8f8f8f"/>
<path d="M132.24 759.2V748.16M130.24 748.36H134.24" stroke="#000" stroke-width="1.55" fill="none"/>
<rect x="128.14" y="758.7" width="8.2" height="84.95" fill="#000"/>
<path d="M142.19 750.14V737.83M140.19 738.03H144.19" stroke="#000" stroke-width="1.55" fill="none"/>
<rect x="138.24" y="749.64" width="7.9" height="94.01" fill="#8f8f8f"/>
<path d="M158.62 769.48V760.17M156.62 760.37H160.62" stroke="#000" stroke-width="1.55" fill="none"/>
<rect x="154.52" y="768.98" width="8.2" height="74.67" fill="#000"/>
<path d="M168.57 807.83V800.83M166.57 801.03H170.57" stroke="#000" stroke-width="1.55" fill="none"/>
<rect x="164.62" y="807.33" width="7.9" height="36.32" fill="#8f8f8f"/>
<path d="M185 802.31V790.25M183 790.45H187" stroke="#000" stroke-width="1.55" fill="none"/>
<rect x="180.9" y="801.81" width="8.2" height="41.84" fill="#000"/>
<path d="M194.95 824.61V817.07M192.95 817.27H196.95" stroke="#000" stroke-width="1.55" fill="none"/>
<rect x="191" y="824.11" width="7.9" height="19.54" fill="#8f8f8f"/>
<path d="M211.38 821.12V816.09M209.38 816.29H213.38" stroke="#000" stroke-width="1.55" fill="none"/>
<rect x="207.28" y="820.62" width="8.2" height="23.03" fill="#000"/>
<path d="M221.33 829.14V822.34M219.33 822.54H223.33" stroke="#000" stroke-width="1.55" fill="none"/>
<rect x="217.38" y="828.64" width="7.9" height="15.01" fill="#8f8f8f"/>
<path d="M45 719.9V843.65" stroke="#555" stroke-width="1.25" fill="none"/>
<path d="M44.3 843.65H229.5" stroke="#000" stroke-width="1.4" fill="none"/>
<path d="M41.7 843.65H45" stroke="#000" stroke-width="1.4"/>
<text transform="translate(40.1 846.75) scale(0.96 1)" text-anchor="end" font-size="9.4" font-weight="bold" stroke="#000" stroke-width="0.25">0</text>
<path d="M41.7 819.04H45" stroke="#000" stroke-width="1.4"/>
<text transform="translate(40.1 822.14) scale(0.96 1)" text-anchor="end" font-size="9.4" font-weight="bold" stroke="#000" stroke-width="0.25">5</text>
<path d="M41.7 794.43H45" stroke="#000" stroke-width="1.4"/>
<text transform="translate(40.1 797.53) scale(0.96 1)" text-anchor="end" font-size="9.4" font-weight="bold" stroke="#000" stroke-width="0.25">10</text>
<path d="M41.7 769.82H45" stroke="#000" stroke-width="1.4"/>
<text transform="translate(40.1 772.92) scale(0.96 1)" text-anchor="end" font-size="9.4" font-weight="bold" stroke="#000" stroke-width="0.25">15</text>
<path d="M41.7 745.21H45" stroke="#000" stroke-width="1.4"/>
<text transform="translate(40.1 748.31) scale(0.96 1)" text-anchor="end" font-size="9.4" font-weight="bold" stroke="#000" stroke-width="0.25">20</text>
<path d="M41.7 720.6H45" stroke="#000" stroke-width="1.4"/>
<text transform="translate(40.1 723.7) scale(0.96 1)" text-anchor="end" font-size="9.4" font-weight="bold" stroke="#000" stroke-width="0.25">25</text>
<path d="M58 843.65V847.05" stroke="#000" stroke-width="1.4"/>
<text transform="translate(58.8 854.45) rotate(-45) scale(0.88 1)" text-anchor="end" font-size="10.2" font-weight="bold" stroke="#000" stroke-width="0.2">CD8<tspan dy="-4.6" dx="1.2" font-size="5.8">+</tspan><tspan dy="4.6" dx="1.4">CD25</tspan><tspan dy="-4.6" dx="0.6" font-size="5.8">+</tspan></text>
<path d="M84.38 843.65V847.05" stroke="#000" stroke-width="1.4"/>
<text transform="translate(85.18 854.45) rotate(-45) scale(0.88 1)" text-anchor="end" font-size="10.2" font-weight="bold" stroke="#000" stroke-width="0.2">CD8<tspan dy="-4.6" dx="1.2" font-size="5.8">+</tspan><tspan dy="4.6" dx="1.4">CD103</tspan><tspan dy="-4.6" dx="0.6" font-size="5.8">+</tspan></text>
<path d="M110.76 843.65V847.05" stroke="#000" stroke-width="1.4"/>
<text transform="translate(111.56 854.45) rotate(-45) scale(0.88 1)" text-anchor="end" font-size="10.2" font-weight="bold" stroke="#000" stroke-width="0.2">CD8<tspan dy="-4.6" dx="1.2" font-size="5.8">+</tspan><tspan dy="4.6" dx="1.4">CD122</tspan><tspan dy="-4.6" dx="0.6" font-size="5.8">+</tspan></text>
<path d="M137.14 843.65V847.05" stroke="#000" stroke-width="1.4"/>
<text transform="translate(137.94 854.45) rotate(-45) scale(0.88 1)" text-anchor="end" font-size="10.2" font-weight="bold" stroke="#000" stroke-width="0.2">CD8<tspan dy="-4.6" dx="1.2" font-size="5.8">+</tspan><tspan dy="4.6" dx="1.4">CD28</tspan><tspan dy="-4.6" dx="0.6" font-size="5.8">-</tspan></text>
<path d="M163.52 843.65V847.05" stroke="#000" stroke-width="1.4"/>
<text transform="translate(164.32 854.45) rotate(-45) scale(0.88 1)" text-anchor="end" font-size="10.2" font-weight="bold" stroke="#000" stroke-width="0.2">CD8<tspan dy="-4.6" dx="1.2" font-size="5.8">+</tspan><tspan dy="4.6" dx="1.4">CD178</tspan><tspan dy="-4.6" dx="0.6" font-size="5.8">+</tspan></text>
<path d="M189.9 843.65V847.05" stroke="#000" stroke-width="1.4"/>
<text transform="translate(190.7 854.45) rotate(-45) scale(0.88 1)" text-anchor="end" font-size="10.2" font-weight="bold" stroke="#000" stroke-width="0.2">CD8<tspan dy="-4.6" dx="1.2" font-size="5.8">+</tspan><tspan dy="4.6" dx="1.4">Perforin</tspan><tspan dy="-4.6" dx="0.6" font-size="5.8">+</tspan></text>
<path d="M216.28 843.65V847.05" stroke="#000" stroke-width="1.4"/>
<text transform="translate(217.08 854.45) rotate(-45) scale(0.88 1)" text-anchor="end" font-size="10.2" font-weight="bold" stroke="#000" stroke-width="0.2">CD8<tspan dy="-4.6" dx="1.2" font-size="5.8">+</tspan><tspan dy="4.6" dx="1.4">Granzyme B</tspan><tspan dy="-4.6" dx="0.6" font-size="5.8">+</tspan></text>
<text transform="translate(23.35 782.12) rotate(-90) scale(0.915 1)" text-anchor="middle" font-size="12.8" font-weight="bold" stroke="#000" stroke-width="0.2">% of CD8<tspan dy="-4.6" font-size="9">+</tspan></text>
<text transform="translate(95.9 704.6) scale(1.03 1)" font-size="13.9" font-weight="bold" stroke="#000" stroke-width="0.25">Day 12</text>
<path d="M75.7 768.3V763.4H88.9V768.3" stroke="#000" stroke-width="1.8" fill="none"/>
<text x="82.3" y="765" text-anchor="middle" font-size="15.5" stroke="#000" stroke-width="0.3">*</text>
<path d="M156.8 752.5V747.3H170.1V752.5" stroke="#000" stroke-width="1.8" fill="none"/>
<text x="163.65" y="747" text-anchor="middle" font-size="15.5" stroke="#000" stroke-width="0.3" letter-spacing="0.4">***</text>
<path d="M183.9 781.4V776.4H196.9V781.4" stroke="#000" stroke-width="1.8" fill="none"/>
<text x="190.6" y="777.15" text-anchor="middle" font-size="15.5" stroke="#000" stroke-width="0.3" letter-spacing="0.4">**</text>
<path d="M209.9 809.4V804.5H223.2V809.4" stroke="#000" stroke-width="1.8" fill="none"/>
<text x="216.55" y="806.2" text-anchor="middle" font-size="15.5" stroke="#000" stroke-width="0.3">*</text>
</g>
<g>
<path d="M312.38 824.07V817.83M310.38 818.03H314.38" stroke="#000" stroke-width="1.55" fill="none"/>
<rect x="308.3" y="823.57" width="8.15" height="19.03" fill="#000"/>
<path d="M322.3 820.59V814.06M320.3 814.26H324.3" stroke="#000" stroke-width="1.55" fill="none"/>
<rect x="318.35" y="820.09" width="7.9" height="22.51" fill="#8f8f8f"/>
<path d="M338.59 813.82V802.58M336.59 802.78H340.59" stroke="#000" stroke-width="1.55" fill="none"/>
<rect x="334.52" y="813.32" width="8.15" height="29.28" fill="#000"/>
<path d="M348.52 799.55V790.32M346.52 790.52H350.52" stroke="#000" stroke-width="1.55" fill="none"/>
<rect x="344.57" y="799.05" width="7.9" height="43.55" fill="#8f8f8f"/>
<path d="M364.81 794.8V786.2M362.81 786.4H366.81" stroke="#000" stroke-width="1.55" fill="none"/>
<rect x="360.74" y="794.3" width="8.15" height="48.3" fill="#000"/>
<path d="M374.74 788.32V777.87M372.74 778.07H376.74" stroke="#000" stroke-width="1.55" fill="none"/>
<rect x="370.79" y="787.82" width="7.9" height="54.78" fill="#8f8f8f"/>
<path d="M391.04 758.02V749.03M389.04 749.23H393.04" stroke="#000" stroke-width="1.55" fill="none"/>
<rect x="386.96" y="757.52" width="8.15" height="85.08" fill="#000"/>
<path d="M400.96 747.96V736.67M398.96 736.87H402.96" stroke="#000" stroke-width="1.55" fill="none"/>
<rect x="397.01" y="747.46" width="7.9" height="95.14" fill="#8f8f8f"/>
<path d="M417.25 778.86V765.8M415.25 766H419.25" stroke="#000" stroke-width="1.55" fill="none"/>
<rect x="413.18" y="778.36" width="8.15" height="64.24" fill="#000"/>
<path d="M427.18 804.36V793.56M425.18 793.76H429.18" stroke="#000" stroke-width="1.55" fill="none"/>
<rect x="423.23" y="803.86" width="7.9" height="38.74" fill="#8f8f8f"/>
<path d="M443.47 802.05V791.6M441.47 791.8H445.47" stroke="#000" stroke-width="1.55" fill="none"/>
<rect x="439.4" y="801.55" width="8.15" height="41.05" fill="#000"/>
<path d="M453.4 820.84V816.12M451.4 816.32H455.4" stroke="#000" stroke-width="1.55" fill="none"/>
<rect x="449.45" y="820.34" width="7.9" height="22.26" fill="#8f8f8f"/>
<path d="M469.69 825.59V821.86M467.69 822.06H471.69" stroke="#000" stroke-width="1.55" fill="none"/>
<rect x="465.62" y="825.09" width="8.15" height="17.51" fill="#000"/>
<path d="M479.62 829.56V826.07M477.62 826.27H481.62" stroke="#000" stroke-width="1.55" fill="none"/>
<rect x="475.67" y="829.06" width="7.9" height="13.54" fill="#8f8f8f"/>
<path d="M304.25 719.3V842.6H487.8" stroke="#000" stroke-width="1.4" fill="none"/>
<path d="M300.95 842.6H304.25" stroke="#000" stroke-width="1.4"/>
<text transform="translate(299.35 845.7) scale(0.96 1)" text-anchor="end" font-size="9.4" font-weight="bold" stroke="#000" stroke-width="0.25">0</text>
<path d="M300.95 818.08H304.25" stroke="#000" stroke-width="1.4"/>
<text transform="translate(299.35 821.18) scale(0.96 1)" text-anchor="end" font-size="9.4" font-weight="bold" stroke="#000" stroke-width="0.25">5</text>
<path d="M300.95 793.56H304.25" stroke="#000" stroke-width="1.4"/>
<text transform="translate(299.35 796.66) scale(0.96 1)" text-anchor="end" font-size="9.4" font-weight="bold" stroke="#000" stroke-width="0.25">10</text>
<path d="M300.95 769.04H304.25" stroke="#000" stroke-width="1.4"/>
<text transform="translate(299.35 772.14) scale(0.96 1)" text-anchor="end" font-size="9.4" font-weight="bold" stroke="#000" stroke-width="0.25">15</text>
<path d="M300.95 744.52H304.25" stroke="#000" stroke-width="1.4"/>
<text transform="translate(299.35 747.62) scale(0.96 1)" text-anchor="end" font-size="9.4" font-weight="bold" stroke="#000" stroke-width="0.25">20</text>
<path d="M300.95 720H304.25" stroke="#000" stroke-width="1.4"/>
<text transform="translate(299.35 723.1) scale(0.96 1)" text-anchor="end" font-size="9.4" font-weight="bold" stroke="#000" stroke-width="0.25">25</text>
<path d="M317.28 842.6V846" stroke="#000" stroke-width="1.4"/>
<text transform="translate(318.08 853.4) rotate(-45) scale(0.88 1)" text-anchor="end" font-size="10.2" font-weight="bold" stroke="#000" stroke-width="0.2">CD8<tspan dy="-4.6" dx="1.2" font-size="5.8">+</tspan><tspan dy="4.6" dx="1.4">CD25</tspan><tspan dy="-4.6" dx="0.6" font-size="5.8">+</tspan></text>
<path d="M343.5 842.6V846" stroke="#000" stroke-width="1.4"/>
<text transform="translate(344.3 853.4) rotate(-45) scale(0.88 1)" text-anchor="end" font-size="10.2" font-weight="bold" stroke="#000" stroke-width="0.2">CD8<tspan dy="-4.6" dx="1.2" font-size="5.8">+</tspan><tspan dy="4.6" dx="1.4">CD103</tspan><tspan dy="-4.6" dx="0.6" font-size="5.8">+</tspan></text>
<path d="M369.72 842.6V846" stroke="#000" stroke-width="1.4"/>
<text transform="translate(370.52 853.4) rotate(-45) scale(0.88 1)" text-anchor="end" font-size="10.2" font-weight="bold" stroke="#000" stroke-width="0.2">CD8<tspan dy="-4.6" dx="1.2" font-size="5.8">+</tspan><tspan dy="4.6" dx="1.4">CD122</tspan><tspan dy="-4.6" dx="0.6" font-size="5.8">+</tspan></text>
<path d="M395.94 842.6V846" stroke="#000" stroke-width="1.4"/>
<text transform="translate(396.74 853.4) rotate(-45) scale(0.88 1)" text-anchor="end" font-size="10.2" font-weight="bold" stroke="#000" stroke-width="0.2">CD8<tspan dy="-4.6" dx="1.2" font-size="5.8">+</tspan><tspan dy="4.6" dx="1.4">CD28</tspan><tspan dy="-4.6" dx="0.6" font-size="5.8">-</tspan></text>
<path d="M422.16 842.6V846" stroke="#000" stroke-width="1.4"/>
<text transform="translate(422.96 853.4) rotate(-45) scale(0.88 1)" text-anchor="end" font-size="10.2" font-weight="bold" stroke="#000" stroke-width="0.2">CD8<tspan dy="-4.6" dx="1.2" font-size="5.8">+</tspan><tspan dy="4.6" dx="1.4">CD178</tspan><tspan dy="-4.6" dx="0.6" font-size="5.8">+</tspan></text>
<path d="M448.38 842.6V846" stroke="#000" stroke-width="1.4"/>
<text transform="translate(449.18 853.4) rotate(-45) scale(0.88 1)" text-anchor="end" font-size="10.2" font-weight="bold" stroke="#000" stroke-width="0.2">CD8<tspan dy="-4.6" dx="1.2" font-size="5.8">+</tspan><tspan dy="4.6" dx="1.4">Perforin</tspan><tspan dy="-4.6" dx="0.6" font-size="5.8">+</tspan></text>
<path d="M474.6 842.6V846" stroke="#000" stroke-width="1.4"/>
<text transform="translate(475.4 853.4) rotate(-45) scale(0.88 1)" text-anchor="end" font-size="10.2" font-weight="bold" stroke="#000" stroke-width="0.2">CD8<tspan dy="-4.6" dx="1.2" font-size="5.8">+</tspan><tspan dy="4.6" dx="1.4">Granzyme B</tspan><tspan dy="-4.6" dx="0.6" font-size="5.8">+</tspan></text>
<text transform="translate(282.1 781.3) rotate(-90) scale(0.915 1)" text-anchor="middle" font-size="12.8" font-weight="bold" stroke="#000" stroke-width="0.2">% of CD8<tspan dy="-4.6" font-size="9">+</tspan></text>
<text transform="translate(358.5 706.7) scale(1.03 1)" font-size="13.9" font-weight="bold" stroke="#000" stroke-width="0.25">Day 18</text>
<path d="M335.8 787.3V781.8H348.7V787.3" stroke="#000" stroke-width="1.8" fill="none"/>
<text x="342.25" y="783.4" text-anchor="middle" font-size="15.5" stroke="#000" stroke-width="0.3">*</text>
<path d="M415.7 762V756.6H428.7V762" stroke="#000" stroke-width="1.8" fill="none"/>
<text x="422.4" y="758.55" text-anchor="middle" font-size="15.5" stroke="#000" stroke-width="0.3" letter-spacing="0.4">**</text>
<path d="M442.1 786.3V780.5H455V786.3" stroke="#000" stroke-width="1.8" fill="none"/>
<text x="448.75" y="781.85" text-anchor="middle" font-size="15.5" stroke="#000" stroke-width="0.3" letter-spacing="0.4">**</text>
</g>
<text x="248.7" y="12.6" text-anchor="middle" font-size="15.7" font-weight="bold">Passive ITP</text>
<text x="0.6" y="43" font-size="17.4" font-weight="bold" stroke="#000" stroke-width="0.3">A</text>
<text x="274" y="485" text-anchor="middle" font-size="15.9" font-weight="bold">Active ITP</text>
<text x="-0.3" y="487.3" font-size="17.4" font-weight="bold" stroke="#000" stroke-width="0.3">B</text>
<rect x="183" y="63.8" width="15" height="8.2" fill="#000"/>
<rect x="183" y="74.4" width="15" height="7.8" fill="#8f8f8f"/>
<text x="204.2" y="71.8" font-size="10.1">9D2+PBS</text>
<text x="204.2" y="81.7" font-size="10.1">9D2+DEX</text>
<rect x="179.6" y="506.8" width="13.3" height="5.3" fill="#fff" stroke="#000" stroke-width="1.7"/>
<rect x="178.75" y="521.9" width="15" height="8.1" fill="#000"/>
<text x="200" y="511.9" font-size="10.1">WT Balb/c control</text>
<text x="200" y="526.6" font-size="10">Transfused imm  <tspan dx="3">β3</tspan><tspan dy="-4" font-size="6.5">-/-</tspan></text>
<text x="200" y="536.1" font-size="10">splenocytes</text>
<rect x="194.6" y="711" width="15" height="7.7" fill="#000"/>
<rect x="194.6" y="722.6" width="15" height="7.8" fill="#8f8f8f"/>
<text x="216" y="718" font-size="10">Water control</text>
<text x="216" y="729.6" font-size="10">DEX <tspan dx="3.6">water</tspan></text>
<text transform="translate(369.6 525) scale(1.04 1)" font-size="10.4" font-weight="bold">DEX treatment</text>
<text transform="translate(369.6 537.6) scale(1.04 1)" font-size="10.4" font-weight="bold">begins at day 6</text>
<path d="M341.7 548.2H474V544.4L481.3 551.5L474 558.6V554.7H341.7Z" fill="#000"/>
</svg>
</body>
</html>
